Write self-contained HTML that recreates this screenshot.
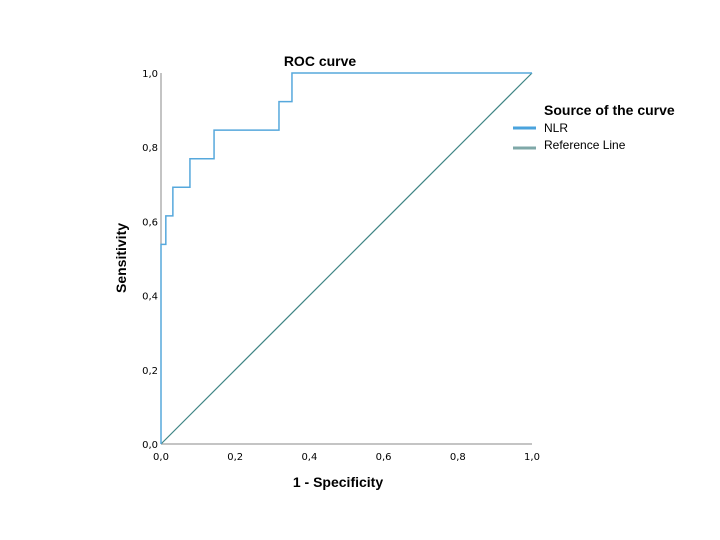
<!DOCTYPE html>
<html><head><meta charset="utf-8"><style>
body{margin:0;background:#fff;}
svg{display:block;font-family:"DejaVu Sans","Liberation Sans",sans-serif;}
</style></head><body>
<svg id="chart" width="720" height="540">
<text x="320" y="66" text-anchor="middle" font-size="14" font-weight="bold" font-family="Liberation Sans, sans-serif">ROC curve</text>
<g id="axes"></g>
<g id="series"></g>
<text x="338" y="487" text-anchor="middle" font-size="14" font-weight="bold" font-family="Liberation Sans, sans-serif">1 - Specificity</text>
<text transform="translate(126,258) rotate(-90)" text-anchor="middle" font-size="14" font-weight="bold" font-family="Liberation Sans, sans-serif">Sensitivity</text>
<g>
<text x="544" y="115" font-size="14" font-weight="bold" font-family="Liberation Sans, sans-serif">Source of the curve</text>
<line x1="513" y1="128" x2="536" y2="128" stroke="#4aa3dd" stroke-width="3"/>
<text x="544" y="132" font-size="12" font-family="Liberation Sans, sans-serif">NLR</text>
<line x1="513" y1="148" x2="536" y2="148" stroke="#7fa8a8" stroke-width="3"/>
<text x="544" y="149" font-size="12" font-family="Liberation Sans, sans-serif">Reference Line</text>
</g>
</svg>
<script>
const rocFpr = [0,0,0.013,0.013,0.032,0.032,0.078,0.078,0.143,0.143,0.318,0.318,0.353,0.353,1];
const rocTpr = [0,0.538,0.538,0.615,0.615,0.692,0.692,0.769,0.769,0.846,0.846,0.923,0.923,1,1];
const refX = [0,1];
const refY = [0,1];
const tickValues = [0,0.2,0.4,0.6,0.8,1.0];
const tickLabels = ["0,0","0,2","0,4","0,6","0,8","1,0"];
const X0=161,X1=532,Y0=444,Y1=73;
const sx=v=>X0+v*(X1-X0), sy=v=>Y0-v*(Y0-Y1);
const NS="http://www.w3.org/2000/svg";
const axes=document.getElementById('axes'), series=document.getElementById('series');
function mk(t,a,p){const e=document.createElementNS(NS,t);for(const k in a)e.setAttribute(k,a[k]);p.appendChild(e);return e;}
let ax=mk('line',{x1:X0,y1:Y0,x2:X1,y2:Y0,stroke:'#888','stroke-width':1},axes);


let ay=mk('line',{x1:X0,y1:Y0,x2:X0,y2:Y1,stroke:'#888','stroke-width':1},axes);


tickValues.forEach((v,i)=>{
 let t=mk('text',{x:sx(v),y:Y0+16,'text-anchor':'middle','font-size':10},axes);t.textContent=tickLabels[i];
 
 
 let u=mk('text',{x:X0-3,y:sy(v)+4,'text-anchor':'end','font-size':10},axes);u.textContent=tickLabels[i];
 
 
});
let r=mk('polyline',{points:refX.map((v,i)=>sx(v)+','+sy(refY[i])).join(' '),fill:'none',stroke:'#3f8585','stroke-width':1.2},series);


let c=mk('polyline',{points:rocFpr.map((v,i)=>sx(v)+','+sy(rocTpr[i])).join(' '),fill:'none',stroke:'#56a8dc','stroke-width':1.5},series);


</script>
</body></html>
